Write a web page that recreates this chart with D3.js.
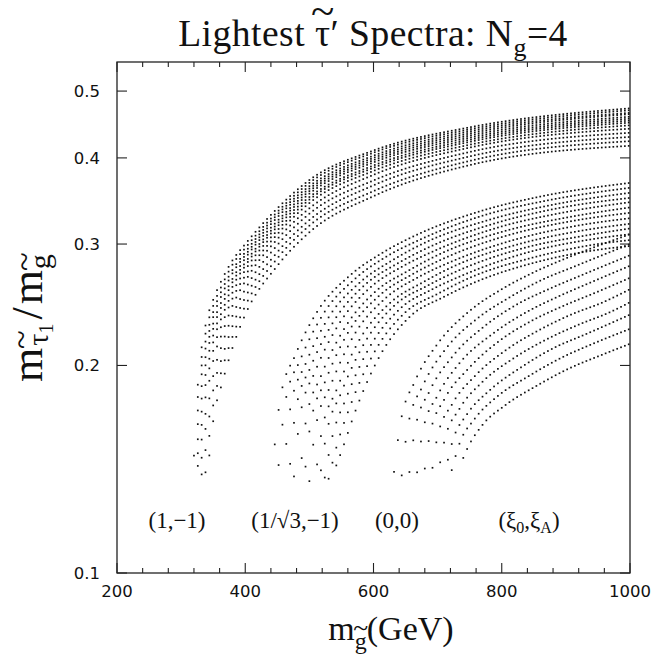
<!DOCTYPE html>
<html>
<head>
<meta charset="utf-8">
<script src="https://cdn.jsdelivr.net/npm/d3@7"></script>
<style>
  body { margin: 0; background: #fff; }
  svg { display: block; }
</style>
</head>
<body>
<svg id="chart" width="652" height="661"></svg>
<script>
// ---- axis ticks -----------------------------------------------------------
const xMajorTicks = [200, 400, 600, 800, 1000];
const xMinorTicks = [240, 280, 320, 360, 440, 480, 520, 560, 640, 680, 720, 760, 840, 880, 920, 960];
const yMajorTicks = [0.1, 0.2, 0.3, 0.4, 0.5];
const yTickLabels = ["0.1", "0.2", "0.3", "0.4", "0.5"];

// ---- model labels (one per family of curves) -----------------------------
const familyLabels = ["(1,\u22121)", "(1/\u221A3,\u22121)", "(0,0)"];
const familyLabelX = [177, 295, 397];

// ---- family (1,-1): gluino mass (GeV) vs m(stau1)/m(gluino) ---------------
const family1 = [
  [[320,.148],[325,.182],[330,.205],[340,.233],[350,.249],[365,.268],[380,.284],[400,.300],[450,.338],[500,.3715],[600,.410],[750,.443],[1000,.472]],
  [[321,.147],[326,.180],[331,.202],[340,.227],[350,.244],[365,.263],[380,.280],[400,.296],[450,.334],[500,.368],[600,.407],[750,.440],[1000,.469]],
  [[322,.146],[327,.178],[332,.200],[340,.221],[350,.239],[365,.259],[380,.275],[400,.292],[450,.331],[500,.364],[600,.403],[750,.437],[1000,.465]],
  [[323,.146],[328,.176],[333,.198],[340,.216],[350,.235],[365,.255],[380,.272],[400,.289],[450,.328],[500,.361],[600,.400],[750,.434],[1000,.463]],
  [[324,.145],[329,.173],[340,.211],[350,.230],[365,.250],[380,.267],[400,.286],[450,.324],[500,.358],[600,.397],[750,.431],[1000,.459]],
  [[325,.144],[330,.170],[340,.206],[350,.226],[365,.246],[380,.264],[400,.282],[450,.321],[500,.355],[600,.394],[750,.428],[1000,.456]],
  [[326,.143],[331,.167],[340,.200],[350,.221],[365,.241],[380,.260],[400,.279],[450,.318],[500,.351],[600,.390],[750,.425],[1000,.453]],
  [[327,.142],[332,.164],[340,.194],[350,.216],[365,.237],[380,.255],[400,.275],[450,.314],[500,.348],[600,.387],[750,.422],[1000,.450]],
  [[328,.141],[333,.160],[340,.187],[350,.210],[365,.231],[380,.250],[400,.270],[450,.310],[500,.344],[600,.383],[750,.418],[1000,.446]],
  [[330,.140],[335,.158],[340,.178],[350,.203],[365,.224],[380,.244],[400,.265],[450,.305],[500,.338],[600,.378],[750,.414],[1000,.441]],
  [[332,.139],[336,.155],[340,.168],[350,.193],[365,.216],[380,.236],[400,.258],[450,.299],[500,.332],[600,.371],[750,.408],[1000,.435]],
  [[334,.138],[340,.157],[350,.184],[365,.207],[380,.228],[400,.251],[450,.292],[500,.325],[600,.365],[750,.402],[1000,.429]],
  [[337,.137],[340,.146],[350,.175],[365,.199],[380,.220],[400,.244],[450,.286],[500,.319],[600,.358],[750,.396],[1000,.423]],
  [[340,.1355],[350,.166],[365,.190],[380,.212],[400,.237],[450,.279],[500,.312],[600,.352],[750,.3905],[1000,.4165]]
];

// ---- family (1/sqrt3,-1) --------------------------------------------------
const family2 = [
  [[443,.144],[455,.180],[478,.207],[513,.240],[563,.270],[613,.291],[663,.308],[763,.334],[863,.352],[1000,.368]],
  [[451,.140],[463,.178],[486,.204],[521,.237],[571,.267],[621,.288],[671,.304],[771,.330],[871,.347],[1000,.362]],
  [[459,.136],[471,.175],[494,.201],[529,.234],[579,.264],[629,.284],[679,.301],[779,.325],[879,.342],[1000,.356]],
  [[467,.133],[479,.173],[502,.199],[537,.231],[587,.262],[637,.281],[687,.297],[787,.321],[887,.338],[1000,.350]],
  [[474,.131],[486,.170],[509,.196],[544,.228],[594,.259],[644,.278],[694,.293],[794,.317],[894,.333],[1000,.345]],
  [[483,.130],[495,.167],[518,.193],[553,.225],[603,.256],[653,.274],[703,.290],[803,.313],[903,.328],[1000,.339]],
  [[490,.130],[502,.165],[525,.190],[560,.223],[610,.253],[660,.271],[710,.286],[810,.309],[910,.324],[1000,.333]],
  [[498,.130],[510,.163],[533,.187],[568,.220],[618,.250],[668,.268],[718,.282],[818,.304],[918,.319],[1000,.327]],
  [[507,.131],[519,.160],[542,.184],[577,.217],[627,.247],[677,.264],[727,.279],[827,.300],[927,.314],[1000,.321]],
  [[514,.132],[526,.158],[549,.182],[584,.214],[634,.245],[684,.261],[734,.275],[834,.296],[934,.309],[1000,.316]],
  [[522,.134],[534,.155],[557,.179],[592,.211],[642,.242],[692,.258],[742,.271],[842,.292],[942,.305],[1000,.310]],
  [[530,.137],[542,.152],[565,.176],[600,.208],[650,.239],[700,.254],[750,.268],[850,.287],[950,.300],[1000,.304]],
  [[538,.140],[550,.150],[573,.173],[608,.205],[658,.236],[708,.251],[758,.264],[858,.283],[958,.295],[1000,.298]]
];

// ---- family (0,0) ---------------------------------------------------------
const family3 = [
  [[630,.135],[642,.165],[665,.190],[700,.215],[750,.240],[800,.258],[850,.273],[900,.286],[1000,.310]],
  [[642,.133],[654,.164],[677,.187],[712,.211],[762,.234],[812,.251],[862,.266],[912,.278],[1000,.300]],
  [[653,.132],[665,.162],[688,.184],[723,.206],[773,.228],[823,.245],[873,.258],[923,.270],[1000,.289]],
  [[665,.132],[677,.161],[700,.181],[735,.202],[785,.222],[835,.238],[885,.251],[935,.263],[1000,.279]],
  [[676,.132],[688,.159],[711,.179],[746,.197],[796,.217],[846,.232],[896,.244],[946,.255],[1000,.268]],
  [[688,.133],[700,.158],[723,.176],[758,.193],[808,.211],[858,.225],[908,.237],[958,.247],[1000,.258]],
  [[699,.136],[711,.156],[734,.173],[769,.189],[819,.205],[869,.218],[919,.229],[969,.239],[1000,.247]],
  [[711,.139],[723,.155],[746,.170],[781,.184],[831,.199],[881,.212],[931,.222],[1000,.237]],
  [[722,.141],[734,.154],[757,.167],[792,.180],[842,.193],[892,.205],[942,.215],[1000,.226]],
  [[735,.143],[747,.152],[770,.164],[805,.175],[855,.187],[905,.198],[955,.207],[1000,.215]]
];

const families = [family1, family2, family3];
const STEP = 6;          // spacing of the computed points along the gluino-mass axis (GeV)

// ---- layout ---------------------------------------------------------------
const svg = d3.select("#chart");
const box = { left: 117, right: 630, top: 62, bottom: 573 };
const serif = "'Liberation Serif', 'Times New Roman', serif";
const sans = "'DejaVu Sans', sans-serif";

svg.append("rect").attr("width", 652).attr("height", 661).attr("fill", "#fff");

const x = d3.scaleLinear().domain([200, 1000]).range([box.left, box.right]);
const y = d3.scaleLog().domain([0.1, 0.551]).range([box.bottom, box.top]);

// ---- scatter points along each curve --------------------------------------
const line = d3.line().x(d => x(d[0])).y(d => y(d[1])).curve(d3.curveMonotoneX);
const probe = svg.append("path").attr("fill", "none").attr("stroke", "none");

function pointsOnCurve(knots) {
  probe.attr("d", line(knots));
  const node = probe.node();
  const L = node.getTotalLength();
  const pts = [];
  for (let l = 0; l <= L; l += 0.25) { const p = node.getPointAtLength(l); pts.push([p.x, p.y]); }
  const e = node.getPointAtLength(L); pts.push([e.x, e.y]);
  const out = [];
  const x0 = knots[0][0], x1 = knots[knots.length - 1][0];
  let j = 0;
  for (let g = 200 + Math.ceil((x0 - 200) / STEP - 1e-9) * STEP; g <= x1 + 1e-9; g += STEP) {
    const px = x(g);
    while (j < pts.length - 2 && pts[j + 1][0] < px) j++;
    const a = pts[j], b = pts[j + 1];
    const t = b[0] === a[0] ? 0 : Math.max(0, Math.min(1, (px - a[0]) / (b[0] - a[0])));
    out.push([px, a[1] + t * (b[1] - a[1])]);
  }
  return out;
}

const dots = [];
families.forEach(fam => fam.forEach(curve => dots.push(...pointsOnCurve(curve))));
probe.remove();

svg.append("g").attr("fill", "#111")
  .selectAll("rect").data(dots).join("rect")
  .attr("x", d => d[0] - 0.85).attr("y", d => d[1] - 0.85)
  .attr("width", 1.7).attr("height", 1.7);

// ---- frame and ticks (ticks point inward on all four sides) ---------------
const axisG = svg.append("g").attr("stroke", "#222").attr("stroke-width", 1.1).attr("fill", "none");
axisG.append("rect")
  .attr("x", box.left).attr("y", box.top)
  .attr("width", box.right - box.left).attr("height", box.bottom - box.top)
  .attr("stroke-width", 1.3);

function xTick(v, len) {
  axisG.append("line").attr("x1", x(v)).attr("x2", x(v)).attr("y1", box.bottom).attr("y2", box.bottom - len);
  axisG.append("line").attr("x1", x(v)).attr("x2", x(v)).attr("y1", box.top).attr("y2", box.top + len);
}
function yTick(v, len) {
  axisG.append("line").attr("y1", y(v)).attr("y2", y(v)).attr("x1", box.left).attr("x2", box.left + len);
  axisG.append("line").attr("y1", y(v)).attr("y2", y(v)).attr("x1", box.right).attr("x2", box.right - len);
}
xMajorTicks.forEach(v => xTick(v, 10));
xMinorTicks.forEach(v => xTick(v, 5));
yMajorTicks.forEach(v => yTick(v, 10));

svg.append("g").selectAll("text").data(xMajorTicks).join("text")
  .attr("x", d => x(d)).attr("y", box.bottom + 24)
  .attr("text-anchor", "middle")
  .style("font-family", sans).style("font-size", "16.5px").attr("fill", "#111")
  .text(d => d);

svg.append("g").selectAll("text").data(yMajorTicks).join("text")
  .attr("x", box.left - 17).attr("y", d => y(d))
  .attr("dy", "0.36em")
  .attr("text-anchor", "end")
  .style("font-family", sans).style("font-size", "16.5px").attr("fill", "#111")
  .text((d, i) => yTickLabels[i]);

// ---- rich text helper: runs of text with baseline shifts, optional tilde ---
function richText(parent, px, py, parts, size, anchor, spacing) {
  const t = parent.append("text").attr("x", px).attr("y", py)
    .attr("text-anchor", anchor || "middle")
    .style("font-family", serif).style("font-size", size + "px").attr("fill", "#111");
  if (spacing) t.style("letter-spacing", spacing + "px");
  let cur = 0, idx = 0;
  const tildes = [];
  parts.forEach(p => {
    const s = p.shift || 0;
    const ts = t.append("tspan").text(p.t).attr("dy", s - cur);
    if (p.size) ts.style("font-size", p.size + "px");
    if (p.gap) ts.attr("dx", p.gap);
    cur = s;
    if (p.tilde !== undefined) tildes.push({ index: idx + p.tilde, size: p.size || size, lift: p.lift, shift: s });
    idx += p.t.length;
  });
  tildes.forEach(tl => {
    const ext = t.node().getExtentOfChar(tl.index);
    const cx = ext.x + ext.width / 2;
    parent.append("text")
      .attr("x", cx).attr("y", py + tl.shift - tl.lift)
      .attr("text-anchor", "middle")
      .style("font-family", serif).style("font-size", (tl.size * 1.15) + "px").attr("fill", "#111")
      .text("~");
  });
  return t;
}

// title
richText(svg, 373, 46, [
  { t: "Lightest " },
  { t: "\u03C4", tilde: 0, lift: 21 },
  { t: "\u2032 Spectra: N" },
  { t: "g", size: 26, shift: 10 },
  { t: "=4", shift: 0 }
], 37.5, "middle", 0.5);

// x axis title
richText(svg, 391, 640, [
  { t: "m" },
  { t: "g", size: 24, shift: 9, tilde: 0, lift: 12 },
  { t: "(GeV)", shift: 0 }
], 34);

// y axis title (rotated, reads bottom to top)
const yTitle = svg.append("g").attr("transform", "translate(42,318) rotate(-90)");
richText(yTitle, 0, 0, [
  { t: "m" },
  { t: "\u03C4", size: 30, shift: 6, tilde: 0, lift: 16, gap: 2 },
  { t: "1", size: 20, shift: 11 },
  { t: "/", shift: 0, gap: 4 },
  { t: "m", gap: 3 },
  { t: "g", size: 30, shift: 8, tilde: 0, lift: 15, gap: 1 }
], 44);

// family labels inside the frame
familyLabels.forEach((lab, i) => {
  richText(svg, familyLabelX[i], 528, [{ t: lab }], 23);
});
richText(svg, 529, 528, [
  { t: "(\u03BE" },
  { t: "0", size: 16, shift: 5 },
  { t: ",\u03BE", shift: 0 },
  { t: "A", size: 16, shift: 5 },
  { t: ")", shift: 0 }
], 23);
</script>
</body>
</html>
